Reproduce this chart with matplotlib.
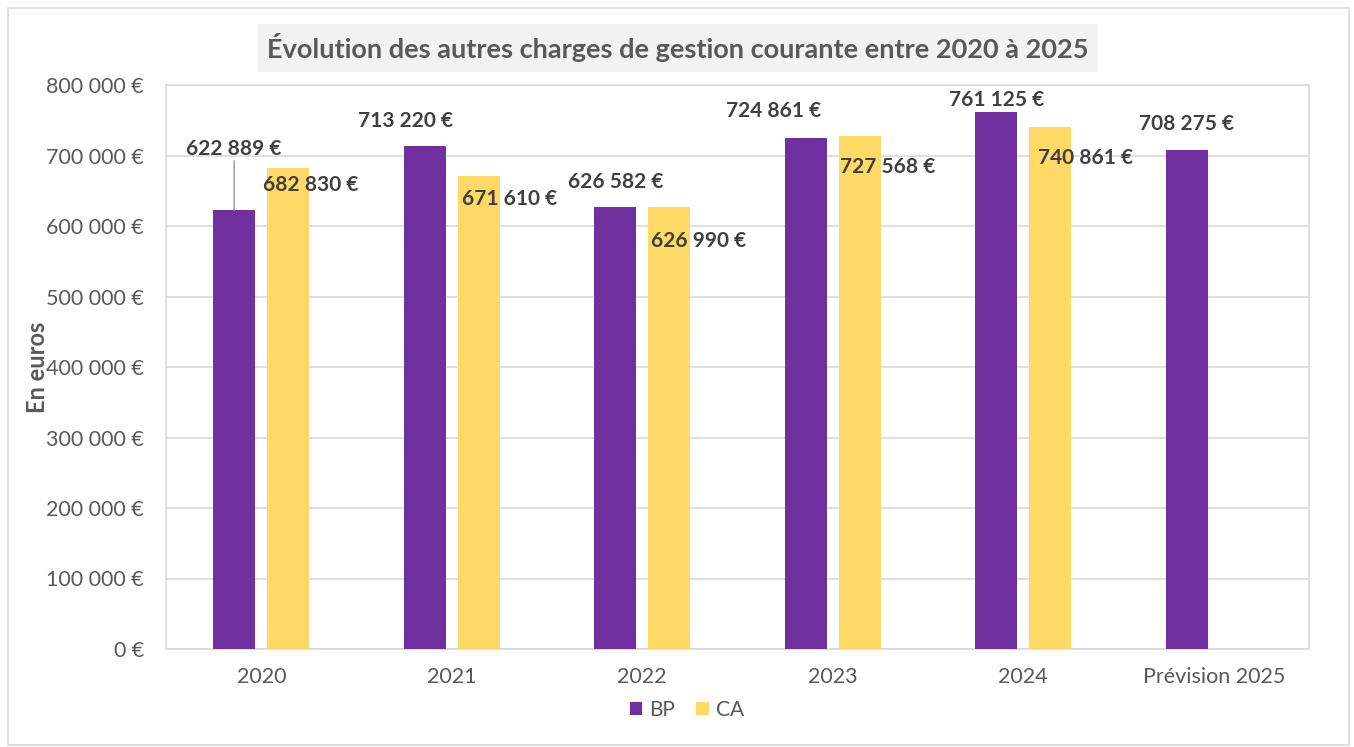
import matplotlib
matplotlib.use("Agg")
import matplotlib.pyplot as plt
from matplotlib.patches import Rectangle
import numpy as np

plt.rcParams['font.family'] = ['Lato', 'DejaVu Sans']

categories = ["2020", "2021", "2022", "2023", "2024", "Prévision 2025"]
bp_values = [622889, 713220, 626582, 724861, 761125, 708275]
ca_values = [682830, 671610, 626990, 727568, 740861, np.nan]
yticks = [0, 100000, 200000, 300000, 400000, 500000, 600000, 700000, 800000]

# label offsets in pixels (dx, dy) relative to bar top centre
bp_offsets = [(-1, 61), (-19, 25), (0, 25), (-32, 27), (0, 12), (0, 26)]
ca_offsets = [(22, -17), (31, -23), (29, -34), (28, -31), (35, -31), None]

PURPLE = "#7030A0"
YELLOW = "#FFD966"
GRID = "#D9D9D9"
TXT = "#595959"
LBL = "#404040"

def fmt(v):
    return f"{int(round(v)):,}".replace(",", " ") + " €"

fig = plt.figure(figsize=(13.54, 7.47), dpi=100)
W, H = 1354, 747
ax = fig.add_axes([166 / W, 1 - 649 / H, (1309 - 166) / W, (649 - 85) / H])

x = np.arange(len(categories))
bw = 0.22
off = 0.142
bars_bp = ax.bar(x - off, bp_values, width=bw, color=PURPLE, label="BP", zorder=3)
bars_ca = ax.bar(x + off, ca_values, width=bw, color=YELLOW, label="CA", zorder=3)

ax.set_xlim(-0.5, len(categories) - 0.5)
ax.set_ylim(0, 800000)
ax.set_yticks(yticks)
ax.set_yticklabels([fmt(v) for v in yticks])
ax.set_xticks(x)
ax.set_xticklabels(categories)
ax.tick_params(axis='both', length=0, colors=TXT, labelsize=15.5)
ax.tick_params(axis='y', pad=16)
ax.tick_params(axis='x', pad=13)
ax.grid(axis='y', color=GRID, linewidth=1.2, zorder=0)
for s in ax.spines.values():
    s.set_color(GRID)
    s.set_linewidth(1.2)

ax.set_ylabel("En euros", fontsize=17, fontweight='bold', color=TXT, labelpad=-2)

for i, (v, o) in enumerate(zip(bp_values, bp_offsets)):
    ax.annotate(fmt(v), xy=(x[i] - off, v), xytext=o, textcoords='offset pixels',
                ha='center', va='center', fontsize=15, fontweight='bold', color=LBL, zorder=5)
# leader line for first BP label
ax.annotate("", xy=(x[0] - off, bp_values[0]), xytext=(bp_offsets[0][0] + 1, bp_offsets[0][1] - 12),
            textcoords='offset pixels',
            arrowprops=dict(arrowstyle='-', color='#A6A6A6', lw=1.2, shrinkA=0, shrinkB=0), zorder=4)
for i, (v, o) in enumerate(zip(ca_values, ca_offsets)):
    if o is None or np.isnan(v):
        continue
    ax.annotate(fmt(v), xy=(x[i] + off, v), xytext=o, textcoords='offset pixels',
                ha='center', va='center', fontsize=15, fontweight='bold', color=LBL, zorder=5)

# title with grey box
fig.text(678 / W, 1 - 48 / H, "Évolution des autres charges de gestion courante entre 2020 à 2025",
         ha='center', va='center', fontsize=19.5, fontweight='bold', color=TXT,
         bbox=dict(boxstyle='square,pad=0.35', facecolor='#F2F2F2', edgecolor='none'))

# legend
leg = fig.legend(handles=[bars_bp, bars_ca], labels=["BP", "CA"], loc='center',
                 bbox_to_anchor=(687 / W, 1 - 710 / H), ncol=2, frameon=False,
                 fontsize=15, handlelength=0.6, handleheight=0.6, handletextpad=0.35,
                 columnspacing=1.0, labelcolor=TXT)

# outer border
fig.patches.append(Rectangle((8 / W, 1 - 745 / H), (1349 - 8) / W, (745 - 8) / H,
                             transform=fig.transFigure, fill=False, edgecolor=GRID, linewidth=1.2))

fig.savefig("out.png", dpi=100, facecolor='white')
